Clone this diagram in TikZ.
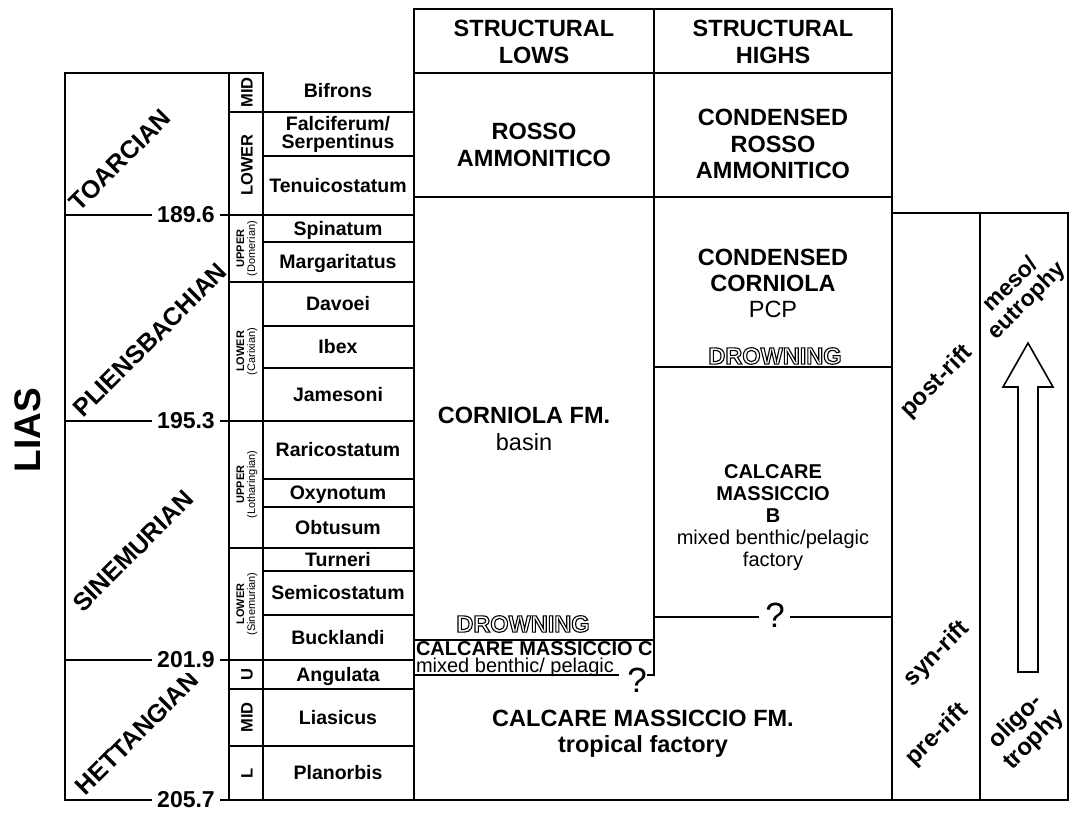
\documentclass[tikz,border=0pt]{standalone}
\usepackage{fontspec}
\setmainfont{Liberation Sans}
\newcommand\outltext[1]{\special{pdf:literal direct 1 Tr 1.1 w}#1\special{pdf:literal direct 0 Tr}}
\tikzset{
  ln/.style={line width=2pt, line cap=rect},
  zonef/.style={font=\fontsize{19.5}{17.5}\selectfont\bfseries, inner sep=0pt, anchor=base},
  bigf/.style={font=\fontsize{23.5}{27}\selectfont\bfseries, align=center, inner sep=0pt},
  stagef/.style={font=\fontsize{25}{30}\selectfont\bfseries, rotate=45, inner sep=0pt},
  numf/.style={font=\fontsize{23}{26}\selectfont\bfseries, fill=white, inner sep=5pt},
  subf/.style={font=\fontsize{16.5}{18}\selectfont\bfseries, rotate=90, inner sep=0pt},
  subtwo/.style={font=\fontsize{11}{11}\selectfont, rotate=90, align=center, inner sep=0pt},
  riftf/.style={font=\fontsize{24}{25}\selectfont\bfseries, rotate=45, align=center, inner sep=0pt},
  qf/.style={font=\fontsize{35}{36}\selectfont, inner sep=0pt},
}
\begin{document}
\begin{tikzpicture}[x=1pt,y=-1pt,ln]
\useasboundingbox (0,0) rectangle (1069,812);
% left columns
\draw (263,73) -- (65,73) -- (65,800) -- (263,800);
\draw (229,73) -- (229,800);
\draw (263,73) -- (263,800);
\foreach \y in {215,421,660} \draw (65,\y) -- (229,\y);
\foreach \y in {112,215,282,421,548,660,689,746} \draw (229,\y) -- (263,\y);
\foreach \y in {112,156,215,242,282,326,368,421,479,507,548,571,615,660,689,746} \draw (263,\y) -- (413.5,\y);
% facies columns
\draw (263,800) -- (1067.8,800);
\draw (413.5,9) -- (413.5,800);
\draw (413.5,9) -- (892,9) -- (892,800);
\draw (413.5,73) -- (892,73);
\draw (413.5,197) -- (892,197);
\draw (654,9) -- (654,675) -- (648,675);
\draw (413.5,640) -- (654,640);
\draw (413.5,675) -- (618,675);
\draw (654,367) -- (892,367);
\draw (654,617) -- (758,617);
\draw (791,617) -- (892,617);
% right columns
\draw (892,213) -- (1067.8,213) -- (1067.8,800);
\draw (980,213) -- (980,800);
% arrow
\draw[line width=1.6pt, line cap=butt, line join=miter] (1018,672) -- (1018,387) -- (1003,387) -- (1028,343) -- (1053,387) -- (1038,387) -- (1038,672) -- cycle;

% LIAS
\node[font=\fontsize{37}{38}\selectfont\bfseries, rotate=90, inner sep=0pt] (lias) at (28,430) {LIAS};
% stages
\node[stagef] (toa) at (120,160) {TOARCIAN};
\node[stagef] (pli) at (150,340) {PLIENSBACHIAN};
\node[stagef] (sin) at (133,551) {SINEMURIAN};
\node[stagef] (het) at (137,733) {HETTANGIAN};
% numbers
\node[numf] (n1) at (186,215) {189.6};
\node[numf] (n2) at (186,421) {195.3};
\node[numf] (n3) at (186,660) {201.9};
\node[numf] (n4) at (186,800) {205.7};
% substages
\node[subf] (s1) at (247,92.5) {MID};
\node[subf] (s2) at (247,165) {LOWER};
\node[subtwo] (s3) at (247,248.5) {\textbf{UPPER}\\(Domerian)};
\node[subtwo] (s4) at (247,351.5) {\textbf{LOWER}\\(Carixian)};
\node[subtwo] (s5) at (247,484.5) {\textbf{UPPER}\\(Lotharingian)};
\node[subtwo] (s6) at (247,604) {\textbf{LOWER}\\(Sinemurian)};
\node[subf] (s7) at (247,674.5) {U};
\node[subf] (s8) at (247,717.5) {MID};
\node[subf] (s9) at (247,773) {L};
% zones
\node[zonef] (z1) at (338,97) {Bifrons};
\node[zonef] (z2a) at (338,130) {Falciferum/};
\node[zonef] (z2b) at (338,148) {Serpentinus};
\node[zonef] (z3) at (338,192.5) {Tenuicostatum};
\node[zonef] (z4) at (338,235) {Spinatum};
\node[zonef] (z5) at (338,268.5) {Margaritatus};
\node[zonef] (z6) at (338,310.5) {Davoei};
\node[zonef] (z7) at (338,353.5) {Ibex};
\node[zonef] (z8) at (338,401) {Jamesoni};
\node[zonef] (z9) at (338,456.5) {Raricostatum};
\node[zonef] (z10) at (338,499.5) {Oxynotum};
\node[zonef] (z11) at (338,534) {Obtusum};
\node[zonef] (z12) at (338,566) {Turneri};
\node[zonef] (z13) at (338,599.5) {Semicostatum};
\node[zonef] (z14) at (338,644) {Bucklandi};
\node[zonef] (z15) at (338,681) {Angulata};
\node[zonef] (z16) at (338,724) {Liasicus};
\node[zonef] (z17) at (338,779.5) {Planorbis};
% headers
\node[bigf] (hl) at (534,42) {STRUCTURAL\\LOWS};
\node[bigf] (hh) at (773,42) {STRUCTURAL\\HIGHS};
% facies
\node[bigf] (rl) at (534,145) {ROSSO\\AMMONITICO};
\node[bigf, font=\fontsize{23.5}{26.5}\selectfont\bfseries] (rh) at (773,144) {CONDENSED\\ROSSO\\AMMONITICO};
\node[bigf, font=\fontsize{23.5}{26}\selectfont\bfseries] (ch) at (773,283) {CONDENSED\\CORNIOLA\\\mdseries PCP};
\node[bigf] (dh) at (775,356) {\outltext{DROWNING}};
\node[bigf] (cl) at (524,429) {CORNIOLA FM.\\\mdseries basin};
\node[bigf, font=\fontsize{20}{22}\selectfont\bfseries] (cb) at (773,518) {CALCARE\\MASSICCIO\\B\\\mdseries mixed benthic/pelagic\\\mdseries factory};
\node[bigf] (dl) at (523,624) {\outltext{DROWNING}};
\node[font=\fontsize{20}{22}\selectfont\bfseries, anchor=base west, inner sep=0pt] (cc1) at (415,655) {CALCARE MASSICCIO C};
\node[font=\fontsize{20}{22}\selectfont, anchor=base west, inner sep=0pt] (cc2) at (415,672) {mixed benthic/ pelagic};
\node[qf] (ql) at (637,680) {?};
\node[qf] (qh) at (775,615) {?};
\node[bigf, font=\fontsize{23.5}{26}\selectfont\bfseries] (fm) at (643,734) {CALCARE MASSICCIO FM.\\tropical factory};
% rift / trophy
\node[riftf] (post) at (937,382) {post-rift};
\node[riftf] (syn) at (937,654) {syn-rift};
\node[riftf] (pre) at (937,735) {pre-rift};
\node[riftf, font=\fontsize{23}{23}\selectfont\bfseries] (meso) at (1019,293) {meso/\\eutrophy};
\node[riftf, font=\fontsize{24}{26}\selectfont\bfseries] (oligo) at (1025,731) {oligo-\\trophy};
\end{tikzpicture}
\end{document}
